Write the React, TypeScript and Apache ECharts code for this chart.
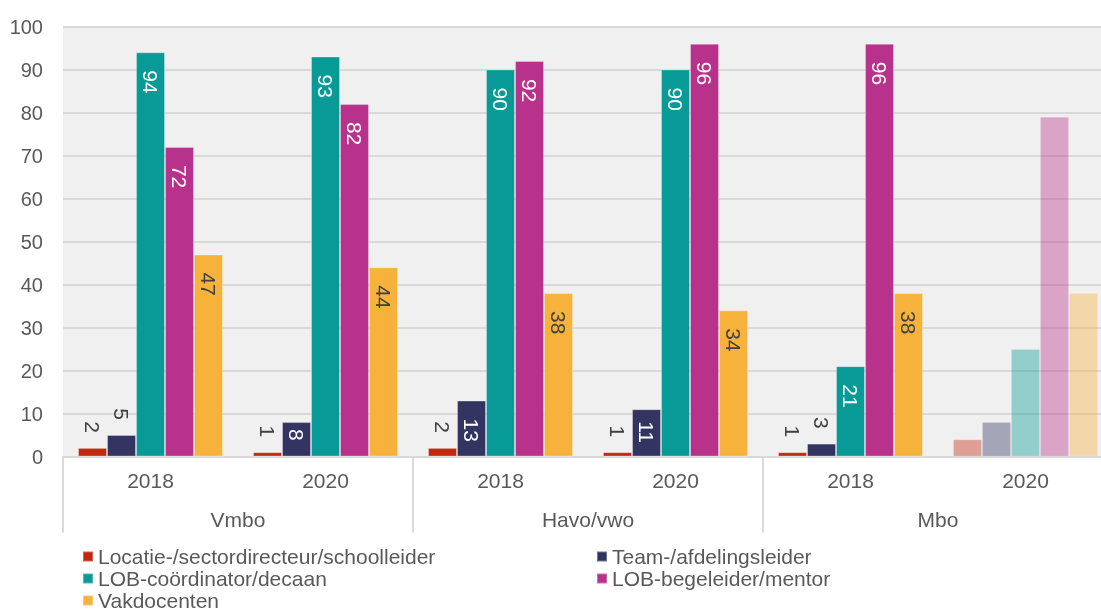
import React, { useEffect, useRef } from "react";
import * as echarts from "echarts";

const categories = ["2018", "2020", "2018", "2020", "2018", "2020"];
const groups = ["Vmbo", "Havo/vwo", "Mbo"];
const seriesNames = [
  "Locatie-/sectordirecteur/schoolleider",
  "Team-/afdelingsleider",
  "LOB-coördinator/decaan",
  "LOB-begeleider/mentor",
  "Vakdocenten",
];
const locatie = [2, 1, 2, 1, 1, 4];
const team = [5, 8, 13, 11, 3, 8];
const lobCoordinator = [94, 93, 90, 90, 21, 25];
const lobBegeleider = [72, 82, 92, 96, 96, 79];
const vakdocenten = [47, 44, 38, 34, 38, 38];
const faded = [false, false, false, false, false, true];
const seriesValues = [locatie, team, lobCoordinator, lobBegeleider, vakdocenten];
const colors = ["#C0280F", "#343463", "#079A96", "#B8318A", "#F7B23C"];
const insideLabelColors = ["#ffffff", "#ffffff", "#ffffff", "#ffffff", "#404040"];

const FONT = "'Liberation Sans', Arial, sans-serif";

function buildData(values: number[], si: number) {
  return values.map((v, i) => {
    if (faded[i]) {
      return { value: v, itemStyle: { opacity: 0.4 }, label: { show: false } };
    }
    const outside = v <= 5;
    const label = outside
      ? {
          show: true,
          position: "top",
          rotate: -90,
          align: "right",
          verticalAlign: "middle",
          distance: 15,
          color: "#404040",
        }
      : {
          show: true,
          position: "insideTop",
          rotate: -90,
          align: "left",
          verticalAlign: "middle",
          distance: v >= 12 ? 18 : v >= 10 ? 12 : 7,
          color: insideLabelColors[si],
        };
    return { value: v, label };
  });
}

export default function App() {
  const ref = useRef<HTMLDivElement>(null);
  useEffect(() => {
    if (!ref.current) return;
    const chart = echarts.init(ref.current, null, { renderer: "svg" });
    chart.setOption({
      animation: false,
      textStyle: { fontFamily: FONT },
      grid: {
        left: 63,
        top: 26.5,
        right: 0,
        height: 430,
        show: true,
        backgroundColor: "#f0f0f0",
        borderWidth: 0,
        containLabel: false,
      },
      legend: [
        {
          left: 82,
          top: 546,
          orient: "vertical",
          padding: 0,
          itemGap: 1,
          itemWidth: 10,
          itemHeight: 10,
          icon: "rect",
          data: [seriesNames[0], seriesNames[2], seriesNames[4]],
          textStyle: { fontSize: 21, color: "#595959", fontFamily: FONT, lineHeight: 21 },
        },
        {
          left: 596,
          top: 546,
          orient: "vertical",
          padding: 0,
          itemGap: 1,
          itemWidth: 10,
          itemHeight: 10,
          icon: "rect",
          data: [seriesNames[1], seriesNames[3]],
          textStyle: { fontSize: 21, color: "#595959", fontFamily: FONT, lineHeight: 21 },
        },
      ],
      xAxis: [
        {
          type: "category",
          data: categories,
          position: "bottom",
          axisLine: { show: true, lineStyle: { color: "#d9d9d9", width: 2 } },
          axisTick: { show: false },
          axisLabel: { fontSize: 21, color: "#595959", margin: 13, fontFamily: FONT },
        },
        {
          type: "category",
          data: groups,
          position: "bottom",
          axisLine: { show: false },
          axisTick: { show: true, length: 76, lineStyle: { color: "#d9d9d9", width: 2 } },
          axisLabel: { fontSize: 21, color: "#595959", margin: 52, fontFamily: FONT },
        },
      ],
      yAxis: {
        type: "value",
        min: 0,
        max: 100,
        interval: 10,
        axisLine: { show: false },
        axisTick: { show: false },
        splitLine: { lineStyle: { color: "#d9d9d9", width: 2 } },
        axisLabel: { fontSize: 20, color: "#595959", margin: 20, fontFamily: FONT },
      },
      series: seriesValues.map((vals, si) => ({
        type: "bar",
        name: seriesNames[si],
        xAxisIndex: 0,
        barWidth: 29,
        barGap: "0%",
        itemStyle: { color: colors[si], borderColor: "rgba(255,255,255,0.3)", borderWidth: 1 },
        label: { fontSize: 21, fontFamily: FONT },
        data: buildData(vals, si),
      })),
    });
    return () => chart.dispose();
  }, []);
  return (
    <div
      ref={ref}
      style={{ position: "fixed", left: 0, top: 0, width: 1113, height: 615 }}
    />
  );
}
